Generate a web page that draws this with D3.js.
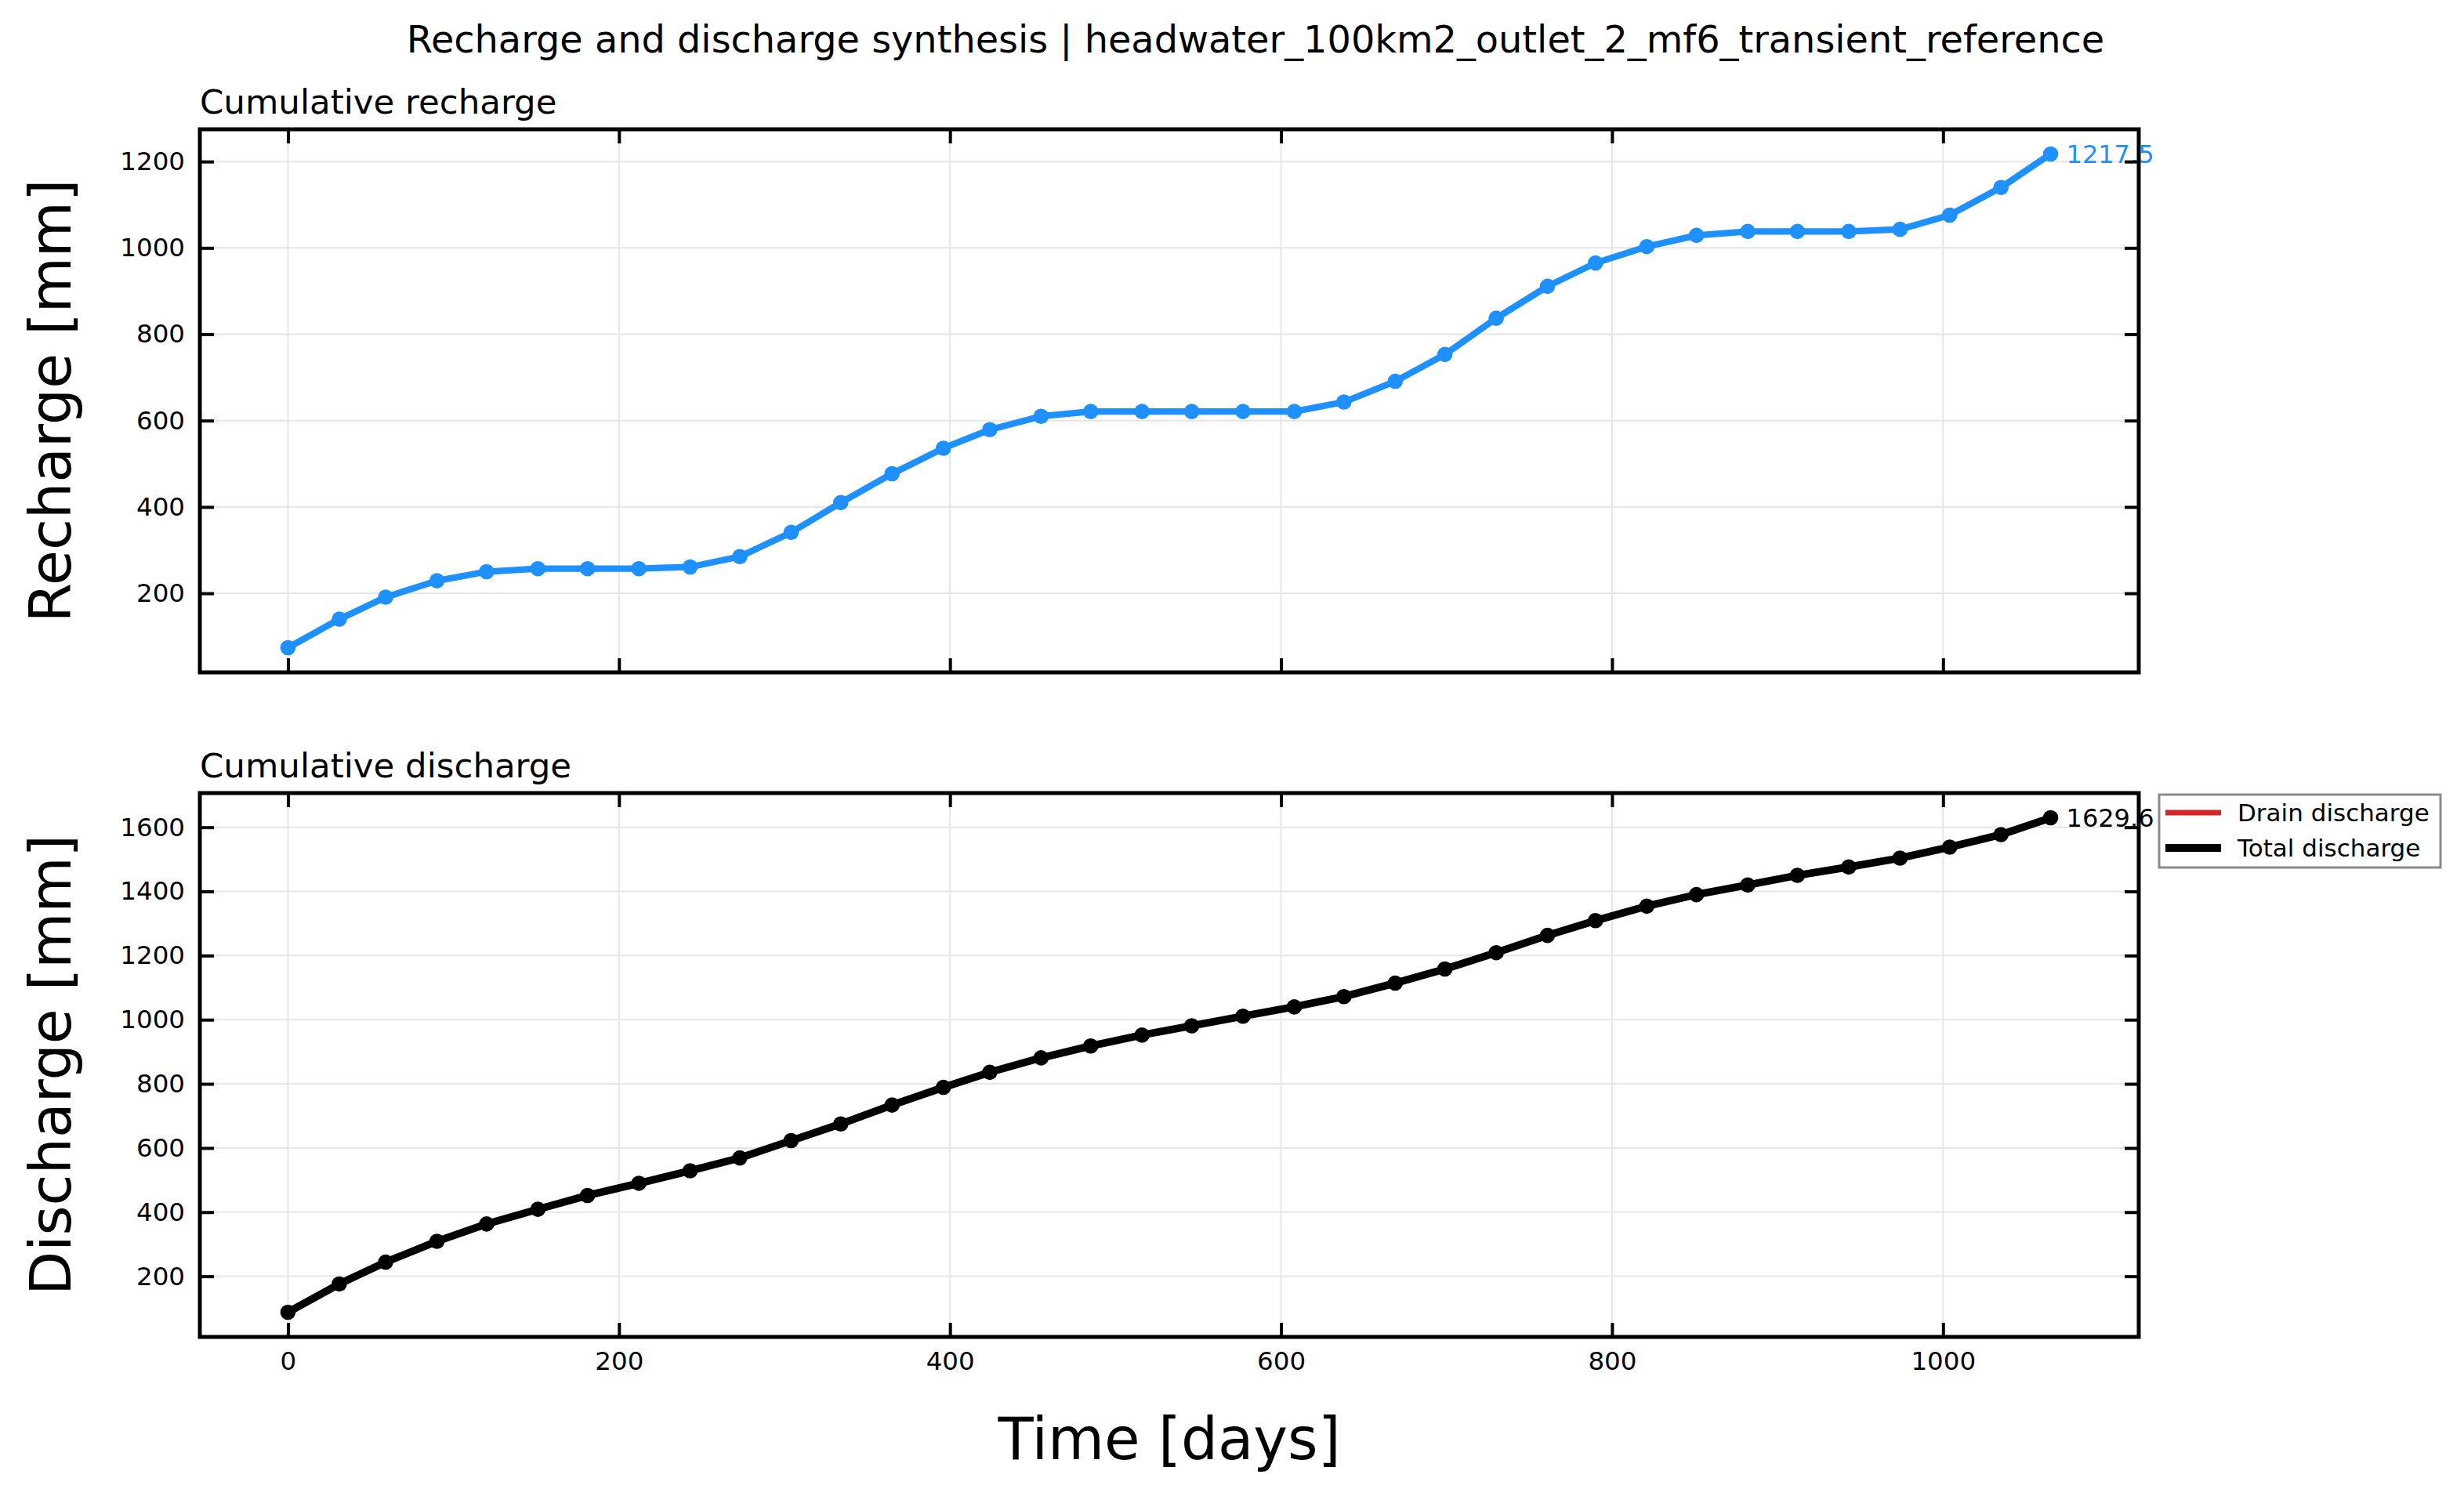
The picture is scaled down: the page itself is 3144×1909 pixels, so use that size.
<!DOCTYPE html>
<html lang="en">
<head>
    <meta charset="UTF-8">
    <title>Recharge and discharge synthesis</title>
    <script src="https://d3js.org/d3.v7.min.js"></script>
    <style>
        body { margin: 0; background: #fff; }
        text { font-family: "DejaVu Sans", sans-serif; }
    </style>
</head>
<body>
    <svg id="chart" width="3144" height="1909"></svg>

    <script>
        // Data
        var days = [0, 31, 59, 90, 120, 151, 181, 212, 243, 273, 304, 334, 365, 396, 424, 455, 485, 516,
                    546, 577, 608, 638, 669, 699, 730, 761, 790, 821, 851, 882, 912, 943, 974, 1004, 1035, 1065];
        var recharge = [74, 140, 191, 229, 250, 257, 257, 257, 261, 285, 341, 410, 477, 536, 579, 610, 621, 621,
                        621, 621, 621, 643, 691, 753, 837, 911, 965, 1003, 1029, 1038, 1038, 1038, 1043, 1076, 1140, 1217.5];
        var totalDischarge = [88, 176, 244, 309, 363, 409, 452, 490, 529, 569, 623, 675, 734, 789, 836, 881, 918, 952,
                              981, 1011, 1040, 1072, 1114, 1158, 1209, 1263, 1309, 1354, 1390, 1420, 1450, 1476, 1504, 1538, 1577, 1629.6];
        // drain discharge sits exactly under the total line
        var drainDischarge = [88, 176, 244, 309, 363, 409, 452, 490, 529, 569, 623, 675, 734, 789, 836, 881, 918, 952,
                              981, 1011, 1040, 1072, 1114, 1158, 1209, 1263, 1309, 1354, 1390, 1420, 1450, 1476, 1504, 1538, 1577, 1629.6];
        var xTicks = [0, 200, 400, 600, 800, 1000];
        var rechargeTicks = [200, 400, 600, 800, 1000, 1200];
        var dischargeTicks = [200, 400, 600, 800, 1000, 1200, 1400, 1600];

        var svg = d3.select("#chart");
        var left = 255, right = 2729;
        var tickLen = 18;

        // matplotlib-like 5% margins
        function padded(ext) {
            var m = (ext[1] - ext[0]) * 0.05;
            return [ext[0] - m, ext[1] + m];
        }

        var x = d3.scaleLinear().domain(padded(d3.extent(days))).range([left, right]);

        // suptitle
        svg.append("text")
           .attr("x", 1602).attr("y", 67)
           .attr("text-anchor", "middle")
           .style("font-size", "47.8px")
           .text("Recharge and discharge synthesis | headwater_100km2_outlet_2_mf6_transient_reference");

        function panel(cfg) {
            var y = d3.scaleLinear().domain(padded(d3.extent(cfg.extentValues))).range([cfg.bottom, cfg.top]);
            var g = svg.append("g");
            var h = cfg.bottom - cfg.top, w = right - left;

            // grid
            g.append("g").selectAll("line").data(xTicks).enter().append("line")
             .attr("x1", d => x(d)).attr("x2", d => x(d))
             .attr("y1", cfg.top).attr("y2", cfg.bottom)
             .attr("stroke", "#e6e6e6").attr("stroke-width", 2);
            g.append("g").selectAll("line").data(cfg.yTicks).enter().append("line")
             .attr("x1", left).attr("x2", right)
             .attr("y1", d => y(d)).attr("y2", d => y(d))
             .attr("stroke", "#e6e6e6").attr("stroke-width", 2);

            // series
            cfg.series.forEach(function(s) {
                var pts = days.map((d, i) => [d, s.values[i]]);
                g.append("path")
                 .datum(pts)
                 .attr("fill", "none")
                 .attr("stroke", s.color)
                 .attr("stroke-width", s.width)
                 .attr("stroke-linejoin", "round")
                 .attr("d", d3.line().x(d => x(d[0])).y(d => y(d[1])));
                if (s.markers) {
                    g.append("g").selectAll("circle").data(pts).enter().append("circle")
                     .attr("cx", d => x(d[0])).attr("cy", d => y(d[1]))
                     .attr("r", 9.8).attr("fill", s.color);
                    var last = pts[pts.length - 1];
                    g.append("text")
                     .attr("x", x(last[0]) + 20).attr("y", y(last[1]))
                     .attr("dy", "0.35em")
                     .attr("fill", s.color)
                     .style("font-size", "32px")
                     .text(s.label);
                }
            });

            // axes with inward ticks on all four sides
            var ax = [
                { a: d3.axisBottom(x).tickValues(xTicks).tickFormat(cfg.showX ? d3.format("d") : ""), t: "translate(0," + cfg.bottom + ")" },
                { a: d3.axisTop(x).tickValues(xTicks).tickFormat(""), t: "translate(0," + cfg.top + ")" },
                { a: d3.axisLeft(y).tickValues(cfg.yTicks).tickFormat(d3.format("d")), t: "translate(" + left + ",0)" },
                { a: d3.axisRight(y).tickValues(cfg.yTicks).tickFormat(""), t: "translate(" + right + ",0)" }
            ];
            ax.forEach(function(o) {
                var ag = g.append("g").attr("transform", o.t)
                          .call(o.a.tickSizeInner(-tickLen).tickSizeOuter(0).tickPadding(19));
                ag.select(".domain").remove();
                ag.selectAll(".tick line").attr("stroke", "#000").attr("stroke-width", 4);
                ag.selectAll(".tick text").attr("fill", "#000").style("font-size", "32.5px").style("font-family", "DejaVu Sans");
            });

            // spines
            g.append("rect")
             .attr("x", left).attr("y", cfg.top).attr("width", w).attr("height", h)
             .attr("fill", "none").attr("stroke", "#000").attr("stroke-width", 5);

            // subplot title
            g.append("text")
             .attr("x", left).attr("y", cfg.top - 20)
             .style("font-size", "43.5px")
             .text(cfg.title);

            // y label
            g.append("text")
             .attr("transform", "translate(64," + (cfg.top + h / 2) + ") rotate(-90)")
             .attr("text-anchor", "middle")
             .attr("dy", "0.35em")
             .style("font-size", "73px")
             .text(cfg.ylabel);
            return g;
        }

        panel({
            top: 165, bottom: 858,
            extentValues: recharge,
            yTicks: rechargeTicks,
            showX: false,
            title: "Cumulative recharge",
            ylabel: "Recharge [mm]",
            series: [{ values: recharge, color: "#1E90FF", width: 8.3, markers: true, label: "1217.5" }]
        });

        panel({
            top: 1012, bottom: 1706,
            extentValues: totalDischarge.concat(drainDischarge),
            yTicks: dischargeTicks,
            showX: true,
            title: "Cumulative discharge",
            ylabel: "Discharge [mm]",
            series: [
                { values: drainDischarge, color: "#d62728", width: 7, markers: false },
                { values: totalDischarge, color: "#000000", width: 9.7, markers: true, label: "1629.6" }
            ]
        });

        // x label
        svg.append("text")
           .attr("x", (left + right) / 2).attr("y", 1862)
           .attr("text-anchor", "middle")
           .style("font-size", "74px")
           .text("Time [days]");

        // legend
        var legendItems = [
            { name: "Drain discharge", color: "#d62728", width: 7 },
            { name: "Total discharge", color: "#000000", width: 10 }
        ];
        var lg = svg.append("g").attr("transform", "translate(2755,1014)");
        lg.append("rect")
          .attr("width", 359).attr("height", 93)
          .attr("fill", "#fff").attr("stroke", "#8a8a8a").attr("stroke-width", 3);
        var li = lg.selectAll(".item").data(legendItems).enter().append("g")
                   .attr("class", "item")
                   .attr("transform", (d, i) => "translate(0," + (23 + i * 45) + ")");
        li.append("line")
          .attr("x1", 8).attr("x2", 79)
          .attr("stroke", d => d.color).attr("stroke-width", d => d.width);
        li.append("text")
          .attr("x", 100).attr("dy", "0.35em")
          .style("font-size", "31px")
          .text(d => d.name);
    </script>
</body>
</html>
